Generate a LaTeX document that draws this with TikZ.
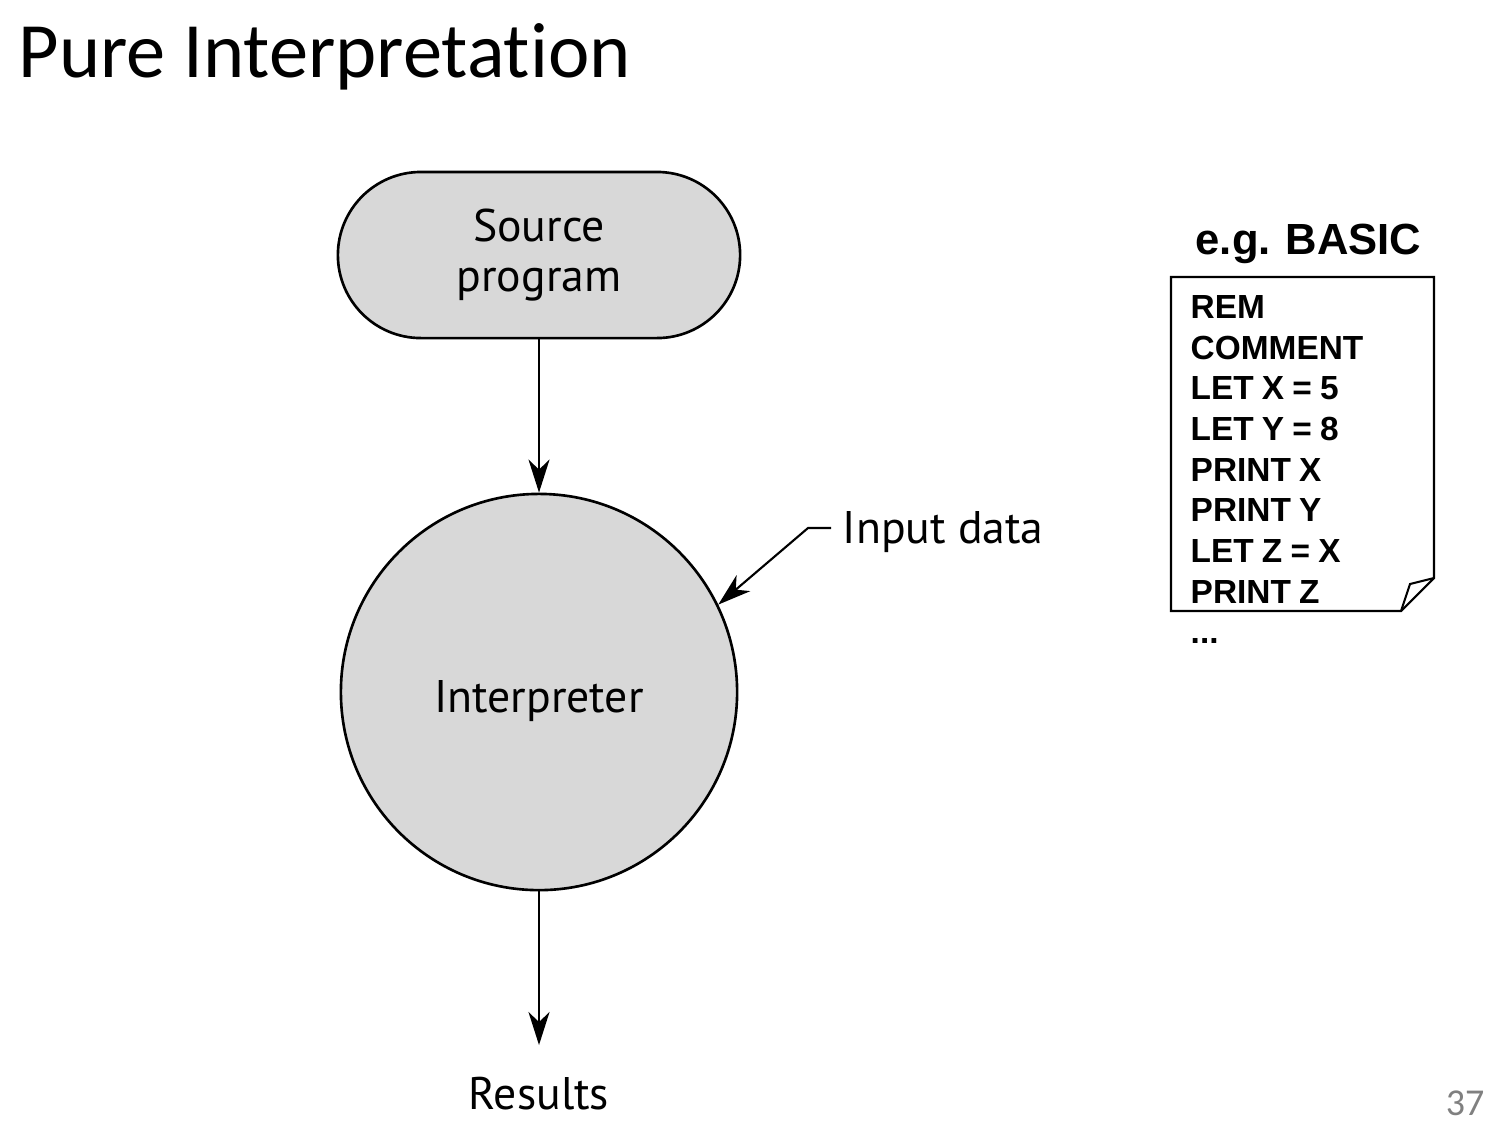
\documentclass[tikz,border=0pt]{standalone}
\usepackage{fontspec}
\setmainfont[Ligatures=CommonOff]{Carlito}
\newfontfamily\diagfont{PT Sans}
\newfontfamily\codefont[WordSpace=0.88]{Liberation Sans}
\usetikzlibrary{arrows.meta}
\definecolor{shade}{RGB}{216,216,216}
\definecolor{pagegray}{RGB}{128,128,128}
\begin{document}
\begin{tikzpicture}[x=0.01cm,y=-0.01cm,
  flow/.style={line width=0.6pt,-{Stealth[length=0.33cm,width=0.21cm,inset=0.1cm]}},
  shapeline/.style={draw=black,line width=0.75pt,fill=shade},
  diag/.style={font=\diagfont\fontsize{13pt}{14.4pt}\selectfont},
  code/.style={font=\codefont\bfseries\fontsize{9.5pt}{11pt}\selectfont,anchor=base west,inner sep=0pt}]
\useasboundingbox (0,0) rectangle (1486,1138);

% heading and slide number
\node[anchor=base west,inner sep=0pt,font=\fontsize{22.3pt}{26pt}\selectfont] (title) at (18,77) {Pure Interpretation};
\node[anchor=base east,inner sep=0pt,text=pagegray,font=\fontsize{10.8pt}{13pt}\selectfont] (pagenum) at (1485,1115) {37};

% flow: source -> interpreter -> results
\node[shapeline,diag,align=center,minimum width=4.02cm,minimum height=1.66cm,rounded corners=0.83cm] (src) at (539,255) {Source\\program};
\node[shapeline,diag,circle,minimum size=3.96cm] (interp) at (539,692) {};
\node[diag,anchor=base,inner sep=0pt] (interplabel) at (539,712) {Interpreter};
\node[diag,anchor=base,inner sep=0pt] (res) at (539,1109) {Results};
\coordinate (resend) at (539,1045);
\draw[flow] (src.south) -- (interp.north);
\draw[flow] (interp.south) -- (resend);

% input data enters from the side
\node[diag,anchor=base west,inner sep=0pt] (inp) at (842,543) {Input data};
\coordinate (knee) at (808,528);
\coordinate (inpstart) at (831,528);
\draw[flow] (inpstart) -- (knee) -- (interp.26);

% example program listing
\node[anchor=base west,inner sep=0pt,font=\codefont\bfseries\fontsize{12.4pt}{14pt}\selectfont] (eg) at (1195,254) {e.g. BASIC};
\draw[line width=0.6pt,fill=white] (1171,277) -- (1434,277) -- (1434,578) -- (1401,611) -- (1171,611) -- cycle;
\draw[line width=0.6pt] (1434,578) -- (1410,584) -- (1401,611);
\node[code] (l1) at (1190,318) {REM};
\node[code] (l2) at (1190,359) {COMMENT};
\node[code] (l3) at (1190,399) {LET X = 5};
\node[code] (l4) at (1190,440) {LET Y = 8};
\node[code] (l5) at (1190,481) {PRINT X};
\node[code] (l6) at (1190,521) {PRINT Y};
\node[code] (l7) at (1190,562) {LET Z = X};
\node[code] (l8) at (1190,603) {PRINT Z};
\node[code] (l9) at (1190,643) {...};
\end{tikzpicture}
\end{document}
